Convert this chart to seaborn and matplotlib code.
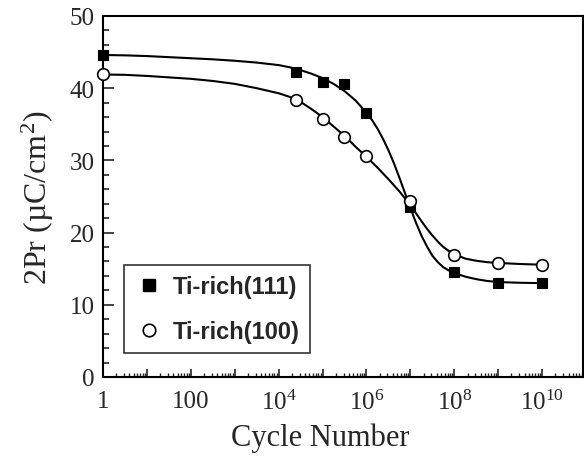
import numpy as np
import pandas as pd
import matplotlib
matplotlib.use("Agg")
import matplotlib.pyplot as plt
import matplotlib.ticker as mticker
from matplotlib.lines import Line2D
import seaborn as sns

# ---- data ----
cycles_111 = [1, 2.5e4, 1e5, 3e5, 1e6, 1e7, 1e8, 1e9, 1e10]
pr_111 = [44.6, 42.3, 40.8, 40.6, 36.5, 23.6, 14.6, 13.0, 13.0]
cycles_100 = [1, 2.5e4, 1e5, 3e5, 1e6, 1e7, 1e8, 1e9, 1e10]
pr_100 = [42.0, 38.3, 35.7, 33.3, 30.6, 24.4, 16.9, 15.8, 15.55]

# fitted curves (log10 cycle, 2Pr)
fit_logx_111 = [0, 0.5, 1, 1.5, 2, 2.5, 3, 3.5, 4, 4.25, 4.5, 4.75, 5, 5.25, 5.5, 5.75,
                6, 6.125, 6.25, 6.375, 6.5, 6.625, 6.75, 6.875, 7, 7.125, 7.25, 7.375,
                7.5, 7.625, 7.75, 7.875, 8, 8.25, 8.5, 8.75, 9, 9.5, 10]
fit_y_111 = [44.6, 44.55, 44.45, 44.3, 44.15, 44.0, 43.8, 43.55, 43.2, 42.9, 42.5, 42.0,
             41.4, 40.6, 39.6, 38.3, 36.6, 35.6, 34.4, 33.0, 31.4, 29.6, 27.6, 25.5,
             23.4, 21.4, 19.6, 18.1, 16.8, 15.9, 15.2, 14.75, 14.4, 13.9, 13.55, 13.3,
             13.15, 13.05, 13.0]
fit_logx_100 = [0, 0.5, 1, 1.5, 2, 2.5, 3, 3.5, 4, 4.25, 4.5, 4.75, 5, 5.25, 5.5, 5.75,
                6, 6.25, 6.5, 6.75, 7, 7.125, 7.25, 7.375, 7.5, 7.625, 7.75, 7.875, 8,
                8.25, 8.5, 8.75, 9, 9.5, 10]
fit_y_100 = [41.9, 41.85, 41.7, 41.5, 41.3, 41.0, 40.6, 40.0, 39.3, 38.8, 38.1, 37.1,
             36.0, 34.7, 33.4, 31.9, 30.5, 29.0, 27.4, 25.7, 23.8, 22.7, 21.6, 20.55,
             19.6, 18.75, 18.0, 17.45, 17.0, 16.4, 16.1, 15.9, 15.8, 15.65, 15.55]

labels = ["Ti-rich(111)", "Ti-rich(100)"]
x_tick_labels = {0: "1", 2: "100", 4: r"$10^{4}$", 6: r"$10^{6}$", 8: r"$10^{8}$", 10: r"$10^{10}$"}
y_ticks = [0, 10, 20, 30, 40, 50]

sns.set_style("ticks")
plt.rcParams["font.family"] = ["Liberation Serif", "DejaVu Serif"]
plt.rcParams["mathtext.fontset"] = "custom"
plt.rcParams["mathtext.rm"] = "Liberation Serif"
plt.rcParams["mathtext.it"] = "Liberation Serif:italic"

fig = plt.figure(figsize=(5.84, 4.60), dpi=100)
ax = fig.add_axes([103 / 584, 1 - 378 / 460, (583 - 103) / 584, (378 - 17) / 460])

f111 = pd.DataFrame({"x": [10 ** v for v in fit_logx_111], "y": fit_y_111})
f100 = pd.DataFrame({"x": [10 ** v for v in fit_logx_100], "y": fit_y_100})
sns.lineplot(data=f111, x="x", y="y", ax=ax, color="black", lw=1.5, sort=True)
sns.lineplot(data=f100, x="x", y="y", ax=ax, color="black", lw=1.5, sort=True)

d111 = pd.DataFrame({"x": cycles_111, "y": pr_111})
d100 = pd.DataFrame({"x": cycles_100, "y": pr_100})
sns.scatterplot(data=d111, x="x", y="y", ax=ax, marker="s", s=52, color="black",
                edgecolor="black", linewidth=0.8, zorder=5, clip_on=False)
sns.scatterplot(data=d100, x="x", y="y", ax=ax, marker="o", s=70, facecolor="white",
                edgecolor="black", linewidth=1.2, zorder=5, clip_on=False)

ax.set_xscale("log")
ax.set_xlim(1, 10 ** 10.93)
ax.set_ylim(0, 50)

ax.xaxis.set_major_locator(mticker.FixedLocator([10.0 ** k for k in range(0, 11)]))
ax.xaxis.set_major_formatter(mticker.FuncFormatter(
    lambda v, p: x_tick_labels.get(int(round(np.log10(v))), "")))
ax.xaxis.set_minor_locator(mticker.LogLocator(base=10, subs=np.arange(2, 10), numticks=100))
ax.xaxis.set_minor_formatter(mticker.NullFormatter())
ax.set_yticks(y_ticks)
ax.yaxis.set_minor_locator(mticker.MultipleLocator(2))

ax.tick_params(axis="x", which="major", direction="in", length=6, width=1.2, labelsize=18, pad=9)
ax.tick_params(axis="x", which="minor", direction="in", length=3, width=1.0)
ax.tick_params(axis="y", which="major", direction="in", length=8, width=1.2, labelsize=18, pad=6)
ax.tick_params(axis="y", which="minor", direction="in", length=4.5, width=1.2)

for s in ax.spines.values():
    s.set_linewidth(1.5)
    s.set_color("black")
    s.set_visible(True)

ax.set_xlabel("Cycle Number", fontsize=22)
ax.xaxis.set_label_coords((320 - 103) / 480, -0.125)
ax.set_ylabel("2Pr (µC/cm$^{2}$)", fontsize=23, labelpad=10)

handles = [
    Line2D([], [], marker="s", color="black", ls="none", markersize=8),
    Line2D([], [], marker="o", markerfacecolor="white", markeredgecolor="black",
           markeredgewidth=1.2, ls="none", markersize=9),
]
leg = ax.legend(handles, labels, loc="lower left", bbox_to_anchor=(0.044, 0.066),
                borderaxespad=0, frameon=True, fancybox=False, handlelength=1.27,
                handletextpad=0.38, borderpad=0.42, labelspacing=0.95,
                prop={"family": "Liberation Sans", "weight": "bold", "size": 17})
leg.get_frame().set_edgecolor("black")
leg.get_frame().set_linewidth(1.2)

fig.savefig("out.png", dpi=100)
